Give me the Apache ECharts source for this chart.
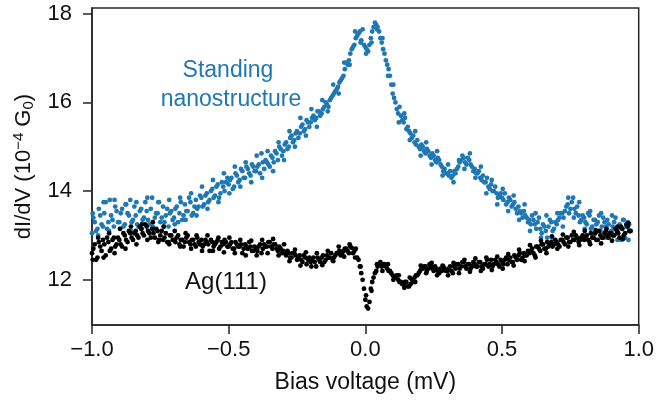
<!DOCTYPE html>
<html>
<head>
<meta charset="utf-8">
<script src="https://cdn.jsdelivr.net/npm/echarts@6/dist/echarts.min.js"></script>
<style>
html,body{margin:0;padding:0;background:#fff;}
#main{width:657px;height:407px;}
</style>
</head>
<body>
<div id="main"></div>
<script>
// bias voltage (mV), first sweep
var bias = [
-1.00,-0.99,-0.98,-0.97,-0.96,-0.95,-0.94,-0.93,-0.92,-0.91,
-0.90,-0.89,-0.88,-0.87,-0.86,-0.85,-0.84,-0.83,-0.82,-0.81,
-0.80,-0.79,-0.78,-0.77,-0.76,-0.75,-0.74,-0.73,-0.72,-0.71,
-0.70,-0.69,-0.68,-0.67,-0.66,-0.65,-0.64,-0.63,-0.62,-0.61,
-0.60,-0.59,-0.58,-0.57,-0.56,-0.55,-0.54,-0.53,-0.52,-0.51,
-0.50,-0.49,-0.48,-0.47,-0.46,-0.45,-0.44,-0.43,-0.42,-0.41,
-0.40,-0.39,-0.38,-0.37,-0.36,-0.35,-0.34,-0.33,-0.32,-0.31,
-0.30,-0.29,-0.28,-0.27,-0.26,-0.25,-0.24,-0.23,-0.22,-0.21,
-0.20,-0.19,-0.18,-0.17,-0.16,-0.15,-0.14,-0.13,-0.12,-0.11,
-0.10,-0.09,-0.08,-0.07,-0.06,-0.05,-0.04,-0.03,-0.02,-0.01,
0.00,0.01,0.02,0.03,0.04,0.05,0.06,0.07,0.08,0.09,
0.10,0.11,0.12,0.13,0.14,0.15,0.16,0.17,0.18,0.19,
0.20,0.21,0.22,0.23,0.24,0.25,0.26,0.27,0.28,0.29,
0.30,0.31,0.32,0.33,0.34,0.35,0.36,0.37,0.38,0.39,
0.40,0.41,0.42,0.43,0.44,0.45,0.46,0.47,0.48,0.49,
0.50,0.51,0.52,0.53,0.54,0.55,0.56,0.57,0.58,0.59,
0.60,0.61,0.62,0.63,0.64,0.65,0.66,0.67,0.68,0.69,
0.70,0.71,0.72,0.73,0.74,0.75,0.76,0.77,0.78,0.79,
0.80,0.81,0.82,0.83,0.84,0.85,0.86,0.87,0.88,0.89,
0.90,0.91,0.92,0.93,0.94,0.95,0.96,0.97
];

// bias voltage (mV), points in between
var biasHalf = [
-0.995,-0.985,-0.975,-0.965,-0.955,-0.945,-0.935,-0.925,-0.915,-0.905,
-0.895,-0.885,-0.875,-0.865,-0.855,-0.845,-0.835,-0.825,-0.815,-0.805,
-0.795,-0.785,-0.775,-0.765,-0.755,-0.745,-0.735,-0.725,-0.715,-0.705,
-0.695,-0.685,-0.675,-0.665,-0.655,-0.645,-0.635,-0.625,-0.615,-0.605,
-0.595,-0.585,-0.575,-0.565,-0.555,-0.545,-0.535,-0.525,-0.515,-0.505,
-0.495,-0.485,-0.475,-0.465,-0.455,-0.445,-0.435,-0.425,-0.415,-0.405,
-0.395,-0.385,-0.375,-0.365,-0.355,-0.345,-0.335,-0.325,-0.315,-0.305,
-0.295,-0.285,-0.275,-0.265,-0.255,-0.245,-0.235,-0.225,-0.215,-0.205,
-0.195,-0.185,-0.175,-0.165,-0.155,-0.145,-0.135,-0.125,-0.115,-0.105,
-0.095,-0.085,-0.075,-0.065,-0.055,-0.045,-0.035,-0.025,-0.015,-0.005,
0.005,0.015,0.025,0.035,0.045,0.055,0.065,0.075,0.085,0.095,
0.105,0.115,0.125,0.135,0.145,0.155,0.165,0.175,0.185,0.195,
0.205,0.215,0.225,0.235,0.245,0.255,0.265,0.275,0.285,0.295,
0.305,0.315,0.325,0.335,0.345,0.355,0.365,0.375,0.385,0.395,
0.405,0.415,0.425,0.435,0.445,0.455,0.465,0.475,0.485,0.495,
0.505,0.515,0.525,0.535,0.545,0.555,0.565,0.575,0.585,0.595,
0.605,0.615,0.625,0.635,0.645,0.655,0.665,0.675,0.685,0.695,
0.705,0.715,0.725,0.735,0.745,0.755,0.765,0.775,0.785,0.795,
0.805,0.815,0.825,0.835,0.845,0.855,0.865,0.875,0.885,0.895,
0.905,0.915,0.925,0.935,0.945,0.955,0.965
];

// bias voltage (mV), the stray points off the main band
var biasOuter = [
-0.9975,-0.9775,-0.9575,-0.9375,-0.9175,-0.8975,-0.8775,-0.8575,-0.8375,-0.8175,
-0.7975,-0.7775,-0.7575,-0.7375,-0.7175,-0.6975,-0.6775,-0.6575,-0.6375,-0.6175,
-0.5975,-0.5775,-0.5575,-0.5375,-0.5175,-0.4975,-0.4775,-0.4575,-0.4375,-0.4175,
-0.3975,-0.3775,-0.3575,-0.3375,-0.3175,-0.2975,-0.2775,-0.2575,-0.2375,-0.2175,
-0.1975,-0.1775,-0.1575,-0.1375,-0.1175,-0.0975,-0.0775,-0.0575,-0.0375,-0.0175,
0.0025,0.0225,0.0425,0.0625,0.0825,0.1025,0.1225,0.1425,0.1625,0.1825,
0.2025,0.2225,0.2425,0.2625,0.2825,0.3025,0.3225,0.3425,0.3625,0.3825,
0.4025,0.4225,0.4425,0.4625,0.4825,0.5025,0.5225,0.5425,0.5625,0.5825,
0.6025,0.6225,0.6425,0.6625,0.6825,0.7025,0.7225,0.7425,0.7625,0.7825,
0.8025,0.8225,0.8425,0.8625,0.8825,0.9025,0.9225,0.9425,0.9625
];

// dI/dV on the standing nanostructure (1e-4 G0)
var standing = [
13.05,13.3,13.15,13.45,13.2,13.75,13.3,13.45,13.2,13.55,
13.3,13.6,13.25,13.5,13.8,13.35,13.45,13.2,13.6,13.4,
13.55,13.25,13.85,13.4,13.5,13.3,13.65,13.45,13.2,13.55,
13.4,13.65,13.5,13.35,13.7,13.55,13.75,13.5,13.8,13.65,
13.85,13.7,13.95,13.8,14.05,13.9,14.15,13.95,14.1,14.2,
14.15,14.3,14.1,14.35,14.25,14.45,14.3,14.5,14.35,14.55,
14.45,14.6,14.85,14.5,14.65,14.55,14.75,14.9,14.7,14.95,
14.9,15.1,15.0,15.25,15.15,15.35,15.3,15.5,15.4,15.55,
15.55,15.7,15.65,15.8,15.75,15.9,15.95,16.05,16.15,16.25,
16.35,16.5,16.6,16.9,16.95,17.2,17.3,17.5,17.6,17.65,
17.25,17.15,17.45,17.7,17.75,17.6,17.35,17.1,16.85,16.6,
16.2,16.0,15.75,15.7,15.55,15.4,15.35,15.2,15.1,15.15,
14.95,15.0,14.85,14.9,14.75,14.8,14.65,14.7,14.55,14.5,
14.4,14.45,14.35,14.4,14.55,14.7,14.75,14.6,14.7,14.55,
14.5,14.4,14.3,14.35,14.2,14.1,14.15,14.0,13.95,13.9,
13.85,13.95,13.75,13.8,13.7,13.6,13.65,13.5,13.55,13.4,
13.35,13.45,13.25,13.3,13.15,13.25,13.1,13.2,13.3,13.15,
13.25,13.4,13.5,13.55,13.7,13.6,13.85,13.5,13.45,13.35,
13.4,13.25,13.45,13.2,13.35,13.3,13.1,13.4,13.2,13.25,
13.1,13.3,13.05,13.25,13.15,12.95,13.3,13.1
];

var standingHalf = [
13.4,13.1,13.6,13.25,13.5,13.15,13.8,13.35,13.65,13.3,
13.5,13.2,13.7,13.45,13.3,13.65,13.25,13.55,13.35,13.75,
13.35,13.6,13.15,13.5,13.75,13.4,13.3,13.6,13.5,13.35,
13.6,13.3,13.75,13.45,13.55,13.85,13.45,13.65,13.6,13.9,
13.65,13.9,13.75,14.0,13.85,14.1,13.85,14.2,14.0,14.3,
14.25,14.05,14.4,14.2,14.5,14.3,14.55,14.4,14.6,14.45,
14.55,14.4,14.65,14.7,14.6,14.8,14.65,14.85,15.0,14.8,
15.05,14.95,15.2,15.1,15.3,15.2,15.45,15.35,15.6,15.45,
15.65,15.6,15.8,15.7,15.85,16.0,15.9,16.1,16.2,16.3,
16.45,16.55,16.75,16.85,17.1,17.25,17.45,17.55,17.4,17.3,
17.2,17.3,17.6,17.8,17.7,17.45,17.2,16.95,16.75,16.4,
16.1,15.85,15.9,15.6,15.65,15.45,15.3,15.25,15.05,15.0,
15.05,14.9,14.95,14.8,14.85,14.7,14.75,14.6,14.45,14.4,
14.35,14.3,14.45,14.5,14.65,14.8,14.65,14.75,14.6,14.45,
14.4,14.45,14.25,14.2,14.3,14.05,14.0,14.1,13.85,13.95,
13.8,13.7,13.85,13.65,13.75,13.5,13.55,13.4,13.45,13.3,
13.25,13.35,13.15,13.4,13.05,13.2,12.95,13.35,13.1,13.3,
13.35,13.5,13.4,13.65,13.5,13.75,13.6,13.65,13.3,13.45,
13.3,13.5,13.15,13.35,13.25,13.45,13.2,13.3,13.35,13.05,
13.2,13.4,13.15,12.9,13.35,13.2,13.25
];

var standingOuter = [
13.5,13.0,13.75,13.1,13.8,13.15,13.7,13.1,13.75,13.15,
13.85,13.2,13.75,13.2,13.8,13.25,13.85,13.35,13.95,13.45,
14.1,13.6,14.25,13.75,14.4,13.95,14.55,14.1,14.65,14.2,
14.8,14.3,14.9,14.45,15.1,14.7,15.35,15.0,15.65,15.25,
15.85,15.45,16.05,15.8,16.4,16.2,16.9,16.85,17.6,17.35,
17.1,17.35,17.65,17.45,16.6,16.4,15.55,15.75,15.15,15.35,
14.8,15.1,14.6,14.9,14.35,14.6,14.2,14.7,14.5,14.85,
14.3,14.55,13.95,14.25,13.7,14.05,13.55,13.9,13.35,13.7,
13.1,13.5,12.95,13.45,12.95,13.5,13.2,13.85,13.4,13.75,
13.15,13.55,13.05,13.5,12.95,13.45,12.9,13.35,12.9
];

// dI/dV on bare Ag(111)
var silver = [
12.6,12.8,12.5,12.75,12.9,12.55,12.85,12.7,12.95,12.8,
12.9,12.75,13.0,12.85,13.05,12.9,13.1,12.95,13.15,13.0,
13.2,13.05,13.15,12.95,13.1,13.0,12.9,13.05,12.85,13.0,
12.9,12.95,12.8,12.9,12.85,13.0,12.8,12.9,12.75,12.85,
12.9,12.8,12.85,12.65,12.85,12.8,12.9,12.75,12.8,12.85,
12.75,12.85,12.7,12.8,12.75,12.6,12.8,12.7,12.75,12.65,
12.7,12.75,12.6,12.8,12.75,12.85,12.7,12.8,12.65,12.7,
12.65,12.55,12.6,12.5,12.6,12.45,12.55,12.4,12.5,12.45,
12.4,12.5,12.3,12.45,12.5,12.4,12.55,12.5,12.45,12.55,
12.6,12.55,12.65,12.7,12.6,12.72,12.65,12.5,12.3,12.0,
11.55,11.35,11.8,12.05,12.2,12.35,12.3,12.35,12.25,12.2,
12.1,12.05,12.0,11.95,11.9,11.95,11.85,12.0,12.05,12.1,
12.2,12.25,12.3,12.25,12.3,12.2,12.25,12.15,12.2,12.25,
12.2,12.3,12.15,12.25,12.35,12.3,12.4,12.25,12.35,12.3,
12.35,12.3,12.4,12.25,12.35,12.3,12.45,12.35,12.4,12.3,
12.4,12.45,12.35,12.5,12.4,12.5,12.55,12.45,12.6,12.55,
12.6,12.7,12.55,12.75,12.65,12.8,12.7,12.75,12.85,12.8,
12.85,12.75,12.9,12.8,12.95,12.85,12.9,13.0,12.85,12.95,
12.9,13.0,12.85,12.95,13.05,12.9,13.0,12.95,13.1,12.95,
13.05,13.0,13.1,12.95,13.15,13.05,13.2,13.1
];

var silverHalf = [
12.7,12.45,12.85,12.65,12.8,12.95,12.65,12.9,12.75,12.95,
12.8,13.05,12.9,13.1,12.95,13.05,13.0,13.2,13.05,13.25,
13.1,12.95,13.05,13.15,12.9,13.1,12.95,12.85,13.0,12.9,
12.85,13.0,12.9,12.75,12.95,12.85,12.9,12.8,12.95,12.8,
12.75,12.9,12.8,12.9,12.75,12.85,12.7,12.85,12.9,12.75,
12.8,12.7,12.85,12.75,12.8,12.7,12.75,12.85,12.65,12.75,
12.65,12.8,12.7,12.75,12.85,12.75,12.8,12.7,12.75,12.6,
12.6,12.65,12.5,12.6,12.55,12.5,12.45,12.55,12.35,12.5,
12.45,12.4,12.5,12.4,12.55,12.45,12.5,12.6,12.5,12.6,
12.65,12.6,12.7,12.65,12.75,12.6,12.7,12.45,12.15,11.8,
11.4,11.5,11.95,12.15,12.3,12.4,12.35,12.3,12.2,12.15,
12.05,12.1,11.95,11.9,11.95,11.85,11.9,11.95,12.1,12.15,
12.25,12.3,12.2,12.35,12.25,12.3,12.2,12.25,12.3,12.2,
12.25,12.2,12.3,12.35,12.25,12.4,12.3,12.35,12.25,12.4,
12.3,12.4,12.3,12.35,12.45,12.35,12.3,12.45,12.35,12.45,
12.35,12.5,12.45,12.4,12.55,12.45,12.6,12.5,12.55,12.65,
12.65,12.6,12.75,12.7,12.8,12.7,12.85,12.8,12.75,12.9,
12.8,12.9,12.85,12.95,12.85,13.0,12.9,12.95,12.9,13.0,
12.95,12.9,13.05,12.95,12.9,13.1,12.95,13.05,13.0,13.05,
13.0,13.15,13.05,13.2,13.0,13.25,13.1
];

var silverOuter = [
12.45,12.95,12.5,13.05,12.6,13.15,12.7,13.2,12.8,13.25,
12.9,13.3,12.85,13.2,12.8,13.1,12.75,13.05,12.7,13.0,
12.65,13.0,12.65,12.95,12.62,12.95,12.6,12.9,12.55,12.88,
12.55,12.9,12.6,12.92,12.55,12.8,12.42,12.68,12.32,12.62,
12.3,12.6,12.33,12.65,12.42,12.75,12.52,12.8,12.5,12.3,
11.65,11.75,12.35,12.2,12.35,12.0,12.1,11.82,12.05,11.95,
12.32,12.15,12.38,12.1,12.32,12.1,12.38,12.15,12.45,12.18,
12.48,12.2,12.5,12.22,12.52,12.25,12.58,12.32,12.68,12.42,
12.78,12.5,12.88,12.6,12.98,12.7,13.02,12.75,13.08,12.78,
13.1,12.8,13.12,12.82,13.15,12.88,13.2,12.92,13.28
];

var yTicks = [12, 14, 16, 18];

var FONT = '"Liberation Sans", Arial, Helvetica, sans-serif';
var BLUE = '#1f77b4';
var AXIS = '#262626';

function pairs(xs, ys) {
	return ys.map(function(v, i) { return [xs[i], v]; });
}

var myChart = echarts.init(document.getElementById('main'));

var option = {
	animation: false,
	textStyle: { fontFamily: FONT },
	grid: {
		left: 92, right: 16, top: 8, bottom: 82,
		show: true, borderColor: AXIS, borderWidth: 1.5, backgroundColor: 'transparent'
	},
	xAxis: {
		type: 'value',
		min: -1, max: 1, interval: 0.5,
		name: 'Bias voltage (mV)',
		nameLocation: 'middle',
		nameGap: 58,
		nameTextStyle: { fontSize: 23, color: '#111', fontFamily: FONT, verticalAlign: 'middle' },
		axisLine: { show: true, onZero: false, lineStyle: { color: AXIS, width: 1.5 } },
		axisTick: { show: true, inside: false, length: 9, lineStyle: { color: AXIS, width: 1.5 } },
		axisLabel: {
			fontSize: 22, color: '#111', margin: 14, fontFamily: FONT,
			formatter: function(v) { return v.toFixed(1).replace('-', '\u2212'); }
		},
		splitLine: { show: false }
	},
	yAxis: {
		type: 'value',
		min: 10.98, max: 18.13,
		name: '{n|dI/dV (10}{sup|\u22124}{n| G}{sub|0}{n|)}',
		nameLocation: 'middle',
		nameGap: 65,
		nameRotate: 90,
		nameTextStyle: {
			align: 'center', verticalAlign: 'middle',
			rich: {
				n: { fontSize: 22, color: '#111', fontFamily: FONT },
				sup: { fontSize: 15, color: '#111', fontFamily: FONT, verticalAlign: 'top', padding: [0, 0, 10, 0] },
				sub: { fontSize: 15, color: '#111', fontFamily: FONT, verticalAlign: 'bottom', padding: [8, 0, 0, 0] }
			}
		},
		axisLine: { show: true, onZero: false, lineStyle: { color: AXIS, width: 1.5 } },
		axisTick: { show: true, inside: false, length: 9, customValues: yTicks, lineStyle: { color: AXIS, width: 1.5 } },
		axisLabel: { fontSize: 22, color: '#111', margin: 20, fontFamily: FONT, customValues: yTicks },
		splitLine: { show: false }
	},
	graphic: [
		{ type: 'text', x: 228, y: 71, style: { text: 'Standing', fill: BLUE, font: '23px ' + FONT, align: 'center', verticalAlign: 'middle' } },
		{ type: 'text', x: 231, y: 100, style: { text: 'nanostructure', fill: BLUE, font: '23px ' + FONT, align: 'center', verticalAlign: 'middle' } },
		{ type: 'text', x: 226, y: 282, style: { text: 'Ag(111)', fill: '#111', font: '24px ' + FONT, align: 'center', verticalAlign: 'middle' } }
	],
	series: [
		{
			name: 'Standing nanostructure',
			type: 'scatter',
			symbolSize: 4.8,
			itemStyle: { color: BLUE, opacity: 1 },
			data: pairs(bias, standing).concat(pairs(biasHalf, standingHalf), pairs(biasOuter, standingOuter))
		},
		{
			name: 'Ag(111)',
			type: 'scatter',
			symbolSize: 4.8,
			itemStyle: { color: '#000', opacity: 1 },
			data: pairs(bias, silver).concat(pairs(biasHalf, silverHalf), pairs(biasOuter, silverOuter))
		}
	]
};
myChart.setOption(option);
</script>
</body>
</html>
